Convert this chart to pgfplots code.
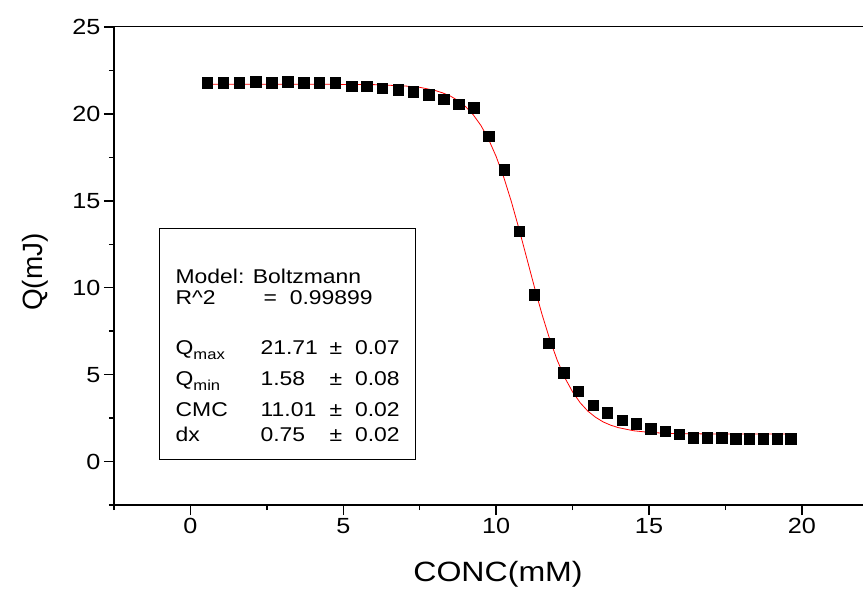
\documentclass[border=0pt]{standalone}
\usepackage{fontspec}
\setmainfont{Liberation Sans}[FakeStretch=1.15]
\newfontfamily\plainfont{Liberation Sans}
\usepackage{pgfplots}
\pgfplotsset{compat=1.18}
\begin{document}
\begin{tikzpicture}
\begin{axis}[
  at={(0,0)}, anchor=south west,
  scale only axis, width=749bp, height=478bp,
  xmin=-2.5, xmax=22, ymin=-2.5, ymax=25,
  axis lines=left, axis line style={-, line width=1.6pt},
  xtick={0,5,...,20}, ytick={0,5,...,25},
  minor xtick={-2.5,2.5,7.5,12.5,17.5,22.5},
  minor ytick={-2.5,2.5,7.5,12.5,17.5,22.5},
  tick align=outside, major tick length=10bp, minor tick length=5bp,
  every tick/.style={black, line width=1.4pt},
  /pgf/number format/assume math mode=true,
  ticklabel style={font=\fontsize{22}{26}\selectfont},
  xlabel={CONC(mM)}, ylabel={Q(mJ)},
  xlabel style={at={(axis description cs:0.5127,-0.1444)}, anchor=center, font=\fontsize{28}{32}\selectfont},
  ylabel style={at={(axis description cs:-0.1055,0.487)}, anchor=center, font=\plainfont\fontsize{28}{32}\selectfont},
]
\draw[line width=1pt] (rel axis cs:0,1) -- (rel axis cs:1,1);
\addplot[black, only marks, mark=square*, mark size=5.2bp] coordinates {
(0.55,21.80)(1.08,21.80)(1.60,21.80)(2.14,21.86)(2.66,21.80)(3.18,21.86)(3.70,21.80)(4.22,21.80)(4.74,21.80)(5.27,21.61)(5.77,21.61)(6.27,21.48)(6.79,21.40)(7.28,21.28)(7.79,21.11)(8.29,20.86)(8.78,20.56)(9.27,20.36)(9.76,18.72)(10.26,16.78)(10.75,13.26)(11.24,9.61)(11.72,6.80)(12.21,5.10)(12.69,4.04)(13.17,3.24)(13.64,2.80)(14.12,2.38)(14.58,2.17)(15.05,1.90)(15.53,1.74)(15.98,1.57)(16.44,1.38)(16.91,1.38)(17.38,1.38)(17.83,1.32)(18.27,1.32)(18.73,1.32)(19.19,1.32)(19.63,1.32)
};
\addplot[red, line width=0.8pt, no marks] coordinates {
(0.5,21.71)(4,21.708)(6,21.685)(7,21.61)(7.5,21.53)(8,21.35)(8.25,21.21)(8.5,21.03)(8.75,20.77)(9,20.42)(9.25,19.95)(9.5,19.34)(9.75,18.55)(10,17.55)(10.25,16.35)(10.5,14.94)(10.75,13.37)(11,11.71)(11.25,10.05)(11.5,8.47)(11.75,7.05)(12,5.82)(12.25,4.81)(12.5,4.01)(12.75,3.38)(13,2.90)(13.25,2.55)(13.5,2.28)(13.75,2.09)(14,1.95)(14.5,1.77)(15,1.68)(15.5,1.63)(16,1.606)(17,1.587)(18,1.582)(19.6,1.58)
};
\draw[line width=0.8pt] (axis cs:-1.01,0.12) rectangle (axis cs:7.36,13.4);
\begin{scope}[every node/.style={anchor=base west, inner sep=0pt, font=\fontsize{20}{24}\selectfont}]
\node at (axis cs:-0.49,10.24) {Model: Boltzmann};
\node at (axis cs:-0.49,9.03) {R\^{}2};
\node at (axis cs:2.39,9.03) {= \ 0.99899};
\node at (axis cs:-0.49,6.16) {Q\raisebox{-5bp}{\fontsize{14.5}{15}\selectfont max}};
\node at (axis cs:2.29,6.16) {21.71};
\node at (axis cs:4.55,6.16) {± \ 0.07};
\node at (axis cs:-0.49,4.37) {Q\raisebox{-5bp}{\fontsize{14.5}{15}\selectfont min}};
\node at (axis cs:2.29,4.37) {1.58};
\node at (axis cs:4.55,4.37) {± \ 0.08};
\node at (axis cs:-0.49,2.59) {CMC};
\node at (axis cs:2.29,2.59) {11.01};
\node at (axis cs:4.55,2.59) {± \ 0.02};
\node at (axis cs:-0.49,1.15) {dx};
\node at (axis cs:2.29,1.15) {0.75};
\node at (axis cs:4.55,1.15) {± \ 0.02};
\end{scope}
\end{axis}
\pgfresetboundingbox
\useasboundingbox (-114bp,-90bp) rectangle (749bp,505bp);
\end{tikzpicture}
\end{document}
